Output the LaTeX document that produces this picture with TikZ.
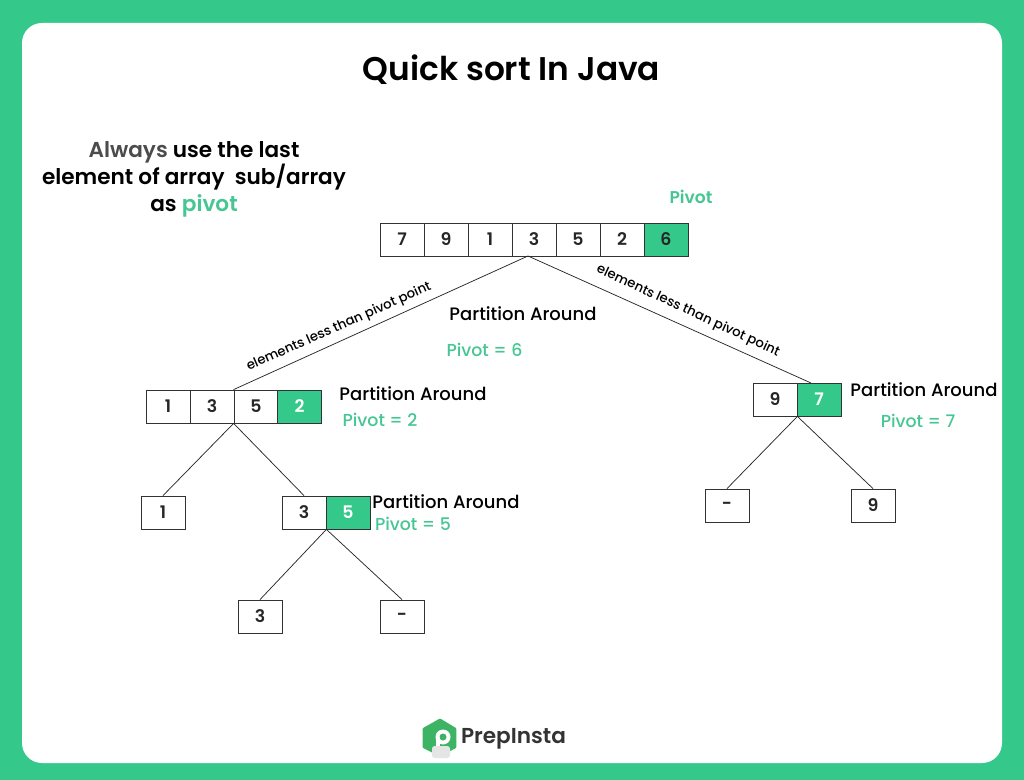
\documentclass[tikz,border=0pt]{standalone}
\usepackage{fontspec}
\setmainfont{Poppins Medium}[BoldFont=Poppins SemiBold]
\usetikzlibrary{positioning}
\definecolor{prepgreen}{RGB}{52,201,138}
\definecolor{logogreen}{RGB}{60,180,100}
\definecolor{pivottext}{RGB}{70,198,147}
\definecolor{cellline}{RGB}{50,50,50}
\tikzset{
  cellbox/.style={draw=cellline,line width=0.6pt,fill=white,minimum width=33pt,minimum height=24.75pt,inner sep=0pt,font=\fontsize{13}{15}\selectfont\bfseries,text=black!85},
  pivotbox/.style={cellbox,fill=prepgreen},
  branch/.style={draw=black!85,line width=0.55pt},
  parttext/.style={inner sep=0pt,font=\fontsize{13.5}{15}\selectfont,text=black},
  pivottext/.style={inner sep=0pt,font=\fontsize{13}{15}\selectfont,text=pivottext},
  edgetext/.style={inner sep=0pt,font=\fontsize{9.9}{11}\selectfont,text=black}
}
\begin{document}
\begin{tikzpicture}[x=0.75pt,y=0.75pt,yscale=-1,xscale=1]
    \useasboundingbox (0,0) rectangle (1024,780);
    %background
    \fill [prepgreen] (0,0) rectangle (1024,780);
    \fill [white,rounded corners=15pt] (22,23) rectangle (1002,763);

    % Text Node
    \node (title) at (511.5,70) [inner sep=0pt,font=\fontsize{24.6}{28}\selectfont\bfseries] {Quick sort In Java};
    \node (rule) at (194,179.5) [inner sep=0pt,align=center,font=\fontsize{16.2}{20}\selectfont\bfseries] {\textcolor{black!70}{Always} use the last\\element of array~~sub/array\\as \textcolor{pivottext}{pivot}};
    \node (pivotname) at (691,197) [pivottext,font=\fontsize{12.8}{15}\selectfont\bfseries] {Pivot};

    %top array
    \node (ta) at (402,239.5) [cellbox] {7};
    \node (tb) at (446,239.5) [cellbox] {9};
    \node (tc) at (490,239.5) [cellbox] {1};
    \node (td) at (534,239.5) [cellbox] {3};
    \node (te) at (578,239.5) [cellbox] {5};
    \node (tf) at (622,239.5) [cellbox] {2};
    \node (tg) at (666,239.5) [pivotbox] {6};

    %left array
    \node (la) at (168,406.5) [cellbox] {1};
    \node (lb) at (212,406.5) [cellbox] {3};
    \node (lc) at (256,406.5) [cellbox] {5};
    \node (ld) at (299.5,406.5) [pivotbox,text=white] {2};

    %right array
    \node (ra) at (775,399.5) [cellbox] {9};
    \node (rb) at (819,399.5) [pivotbox,text=white] {7};

    %lower left
    \node (lone) at (163,512.5) [cellbox] {1};
    \node (ma) at (304,512.5) [cellbox] {3};
    \node (mb) at (348,512.5) [pivotbox,text=white] {5};
    \node (mthree) at (260,616.5) [cellbox] {3};
    \node (mdash) at (402,616.5) [cellbox] {-};

    %lower right
    \node (rdash) at (727,505.5) [cellbox] {-};
    \node (rnine) at (873,505.5) [cellbox] {9};

    %free ends of the branches
    \coordinate (apex) at (528,256);
    \coordinate (rtop) at (811,383);

    %Straight Lines
    \draw [branch] (apex) -- (lc.north west);
    \draw [branch] (apex) -- (rtop);
    \draw [branch] (lc.south west) -- (lone.north);
    \draw [branch] (lc.south west) -- (ma.north);
    \draw [branch] (ma.south east) -- (mthree.north);
    \draw [branch] (ma.south east) -- (mdash.north);
    \draw [branch] (ra.south east) -- (rdash.north);
    \draw [branch] (ra.south east) -- (rnine.north);

    % Text Node
    \node (edgel) at (339,327) [edgetext,rotate=23.9] {elements less than pivot point};
    \node (edger) at (688,311) [edgetext,rotate=-24.9] {elements less than pivot point};
    \node (parta) at (523,314) [parttext] {Partition Around};
    \node (pivota) at (484.5,350) [pivottext] {Pivot = 6};
    \node (partb) at (413,394) [parttext] {Partition Around};
    \node (pivotb) at (380,420) [pivottext] {Pivot = 2};
    \node (partc) at (924,390) [parttext] {Partition Around};
    \node (pivotc) at (918,421) [pivottext] {Pivot = 7};
    \node (partd) at (446,502) [parttext] {Partition Around};
    \node (pivotd) at (413,524) [pivottext] {Pivot = 5};

    %logo
    \fill [logogreen,line join=round,draw=logogreen,line width=2pt] (440,720) -- (455,729) -- (455,747) -- (440,755) -- (424,747) -- (424,729) -- cycle;
    \fill [white] (443,737) circle [radius=7.5];
    \fill [logogreen] (443,737) circle [radius=3.5];
    \fill [white] (436,737) rectangle (440,747);
    \fill [white!90!black,rounded corners=2pt] (432,746) rectangle (450,758);
    \node (brand) at (513.5,739) [inner sep=0pt,font=\fontsize{16.2}{20}\selectfont\bfseries,text=black!80] {PrepInsta};
\end{tikzpicture}
\end{document}
